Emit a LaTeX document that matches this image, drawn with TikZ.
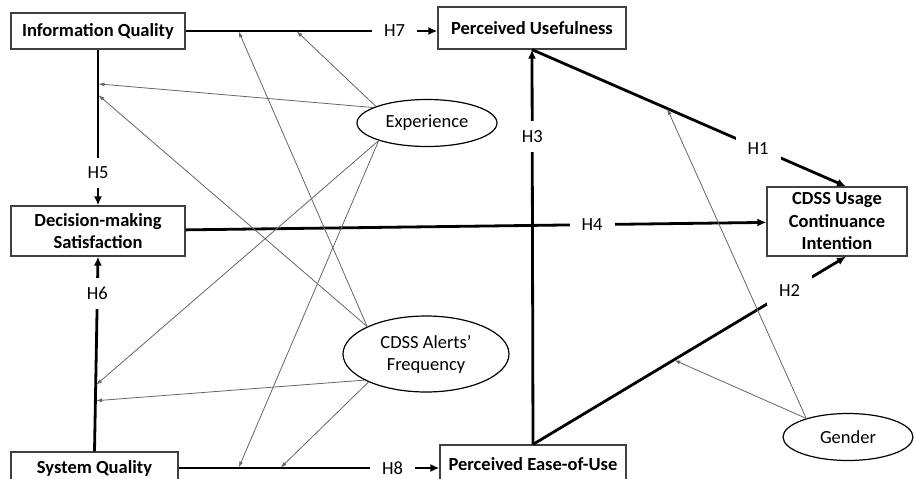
\documentclass[tikz,border=0pt]{standalone}
\usepackage{fontspec}
\setmainfont{Carlito}
\usetikzlibrary{shapes.geometric, arrows.meta, positioning}
\tikzstyle{box} = [rectangle, draw = black!75, line width = 1.2, inner sep = 0,
  align = center, font = \fontsize{18.5}{22.5}\selectfont\bfseries]
\tikzstyle{moder} = [
  ellipse, draw = black, line width = 1.2, inner sep = 0,
  align = center, font = \fontsize{18.5}{22}\selectfont
]
\tikzstyle{hyp} = [line width = 2.8, -{Latex[length = 9, width = 8]}]
\tikzstyle{hlabel} = [fill = white, inner xsep = 12, inner ysep = 9,
  font = \fontsize{18.5}{22}\selectfont]
\tikzstyle{modarrow} = [black!60, line width = 0.8, shorten > = 0.5,
  -{Latex[length = 6, width = 4]}]

\begin{document}
\begin{tikzpicture}[x = 1pt, y = -1pt]
      \useasboundingbox (0, 0) rectangle (914, 479);
      \clip (0, 0) rectangle (914, 479);
      % left column
      \node [box, minimum width = 174, minimum height = 36] (iq) at (98, 31) {Information Quality};
      \node [box, minimum width = 174, minimum height = 50] (dms) at (98, 231) {Decision-making\\Satisfaction};
      \node [box, minimum width = 167, minimum height = 32] (sq) at (94.5, 468) {System Quality};
      % middle column
      \node [box, minimum width = 188, minimum height = 42] (pu) at (532, 28) {Perceived Usefulness};
      \node [box, minimum width = 186, minimum height = 38] (peou) at (533, 464) {Perceived Ease-of-Use};
      % outcome
      \node [box, minimum width = 140, minimum height = 69] (cdss) at (837, 221.5) {CDSS Usage\\Continuance\\Intention};
      % moderators
      \node [moder, minimum width = 140, minimum height = 47] (exp) at (427, 123) {Experience};
      \node [moder, minimum width = 166, minimum height = 76] (alerts) at (426, 354) {CDSS Alerts’\\Frequency};
      \node [moder, minimum width = 130, minimum height = 47] (gender) at (848, 437) {Gender};

      % hypotheses
      \draw [hyp] (iq.east) -- coordinate [pos = 0.21] (h7-a) coordinate [pos = 0.44] (h7-b)
        node [hlabel, pos = 0.83] {H7} (iq.east -| pu.west);
      \draw [hyp] (iq) -- coordinate [pos = 0.22] (h5-a) coordinate [pos = 0.29] (h5-b)
        node [hlabel, pos = 0.79] {H5} (dms);
      \draw [hyp] (sq.north) -- coordinate [pos = 0.34] (h6-a) coordinate [pos = 0.26] (h6-b)
        node [hlabel, pos = 0.81] {H6} (dms.south);
      \draw [hyp] (sq.east) -- coordinate [pos = 0.23] (h8-a) coordinate [pos = 0.39] (h8-b)
        node [hlabel, pos = 0.82] {H8} (sq.east -| peou.west);
      \draw [hyp] (peou.north) -- node [hlabel, pos = 0.78] {H3} (pu.south);
      \draw [hyp] (pu.south) -- coordinate [pos = 0.43] (h1-a)
        node [hlabel, pos = 0.72] {H1} ([xshift = 9] cdss.north);
      \draw [hyp] (peou.north) -- coordinate [pos = 0.45] (h2-a)
        node [hlabel, pos = 0.82] {H2} ([xshift = 9] cdss.south);
      \draw [hyp] (dms) -- node [hlabel, pos = 0.70] {H4} (cdss);

      % moderating effects
      \draw [modarrow] (exp.162) -- (h7-b);
      \draw [modarrow] (exp.164) -- (h5-a);
      \draw [modarrow] (exp.200) -- (h6-a);
      \draw [modarrow] (exp.200) -- (h8-a);
      \draw [modarrow] (alerts.155) -- (h5-b);
      \draw [modarrow] (alerts.155) -- (h7-a);
      \draw [modarrow] (alerts.203) -- (h6-b);
      \draw [modarrow] (alerts.206) -- (h8-b);
      \draw [modarrow] (gender.156) -- (h1-a);
      \draw [modarrow] (gender.156) -- (h2-a);
    \end{tikzpicture}
\end{document}
